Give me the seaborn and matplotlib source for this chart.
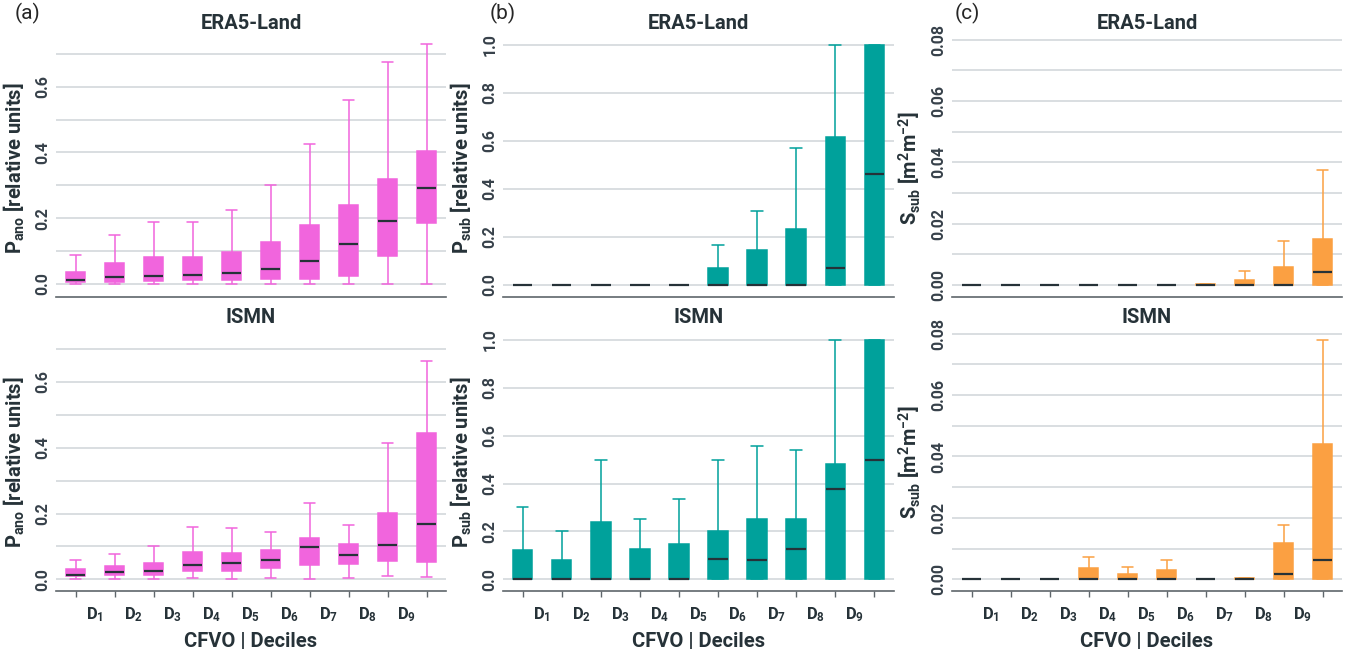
import pandas as pd
import matplotlib
matplotlib.use("Agg")
import matplotlib.pyplot as plt
from matplotlib.ticker import MultipleLocator, FormatStrFormatter, FixedLocator
import seaborn as sns

# CFVO decile bins (box positions) and the D labels sitting between them
bins = list(range(10))
decile_labels = [r"D$_{\mathregular{%d}}$" % i for i in range(1, 10)]

# five-number summary per bin: whisker low, q1, median, q3, whisker high
pano_era5 = [[0.000, 0.005, 0.011, 0.038, 0.089], [0.000, 0.007, 0.022, 0.064, 0.150],
             [0.000, 0.008, 0.025, 0.081, 0.188], [0.000, 0.011, 0.026, 0.082, 0.190],
             [0.000, 0.012, 0.033, 0.097, 0.224], [0.000, 0.014, 0.045, 0.129, 0.301],
             [0.000, 0.016, 0.069, 0.180, 0.426], [0.000, 0.025, 0.122, 0.239, 0.561],
             [0.000, 0.084, 0.192, 0.320, 0.674], [0.000, 0.187, 0.292, 0.403, 0.730]]
pano_ismn = [[0.002, 0.009, 0.013, 0.031, 0.058], [0.001, 0.012, 0.021, 0.041, 0.076],
             [0.001, 0.014, 0.026, 0.051, 0.102], [0.005, 0.026, 0.043, 0.082, 0.159],
             [0.001, 0.025, 0.050, 0.079, 0.155], [0.003, 0.033, 0.058, 0.090, 0.145],
             [0.001, 0.044, 0.098, 0.127, 0.233], [0.005, 0.046, 0.074, 0.106, 0.166],
             [0.009, 0.055, 0.104, 0.201, 0.415], [0.007, 0.052, 0.168, 0.446, 0.665]]
psub_era5 = [[0, 0, 0, 0, 0], [0, 0, 0, 0, 0], [0, 0, 0, 0, 0], [0, 0, 0, 0, 0],
             [0, 0, 0, 0, 0], [0, 0, 0, 0.071, 0.166], [0, 0, 0, 0.143, 0.307],
             [0, 0, 0, 0.231, 0.572], [0, 0, 0.071, 0.615, 1.0], [0, 0, 0.460, 1.0, 1.0]]
psub_ismn = [[0, 0, 0, 0.123, 0.301], [0, 0, 0, 0.081, 0.202], [0, 0, 0, 0.238, 0.500],
             [0, 0, 0, 0.127, 0.251], [0, 0, 0, 0.149, 0.334], [0, 0, 0.085, 0.201, 0.500],
             [0, 0, 0.081, 0.251, 0.557], [0, 0, 0.127, 0.251, 0.539],
             [0, 0, 0.376, 0.482, 1.0], [0, 0, 0.500, 1.0, 1.0]]
ssub_era5 = [[0, 0, 0, 0, 0], [0, 0, 0, 0, 0], [0, 0, 0, 0, 0], [0, 0, 0, 0, 0],
             [0, 0, 0, 0, 0], [0, 0, 0, 0, 0], [0, 0, 0, 0.0002, 0.0002],
             [0, 0, 0, 0.0018, 0.0046], [0, 0, 0, 0.0058, 0.0144],
             [0, 0, 0.0041, 0.0151, 0.0376]]
ssub_ismn = [[0, 0, 0, 0, 0], [0, 0, 0, 0, 0], [0, 0, 0, 0, 0],
             [0, 0, 0, 0.0036, 0.0073], [0, 0, 0, 0.0017, 0.0041], [0, 0, 0, 0.0030, 0.0062],
             [0, 0, 0, 0.0001, 0.0001], [0, 0, 0, 0.0003, 0.0005],
             [0, 0, 0.0017, 0.0117, 0.0177], [0, 0, 0.0063, 0.0439, 0.0779]]

pink = "#f165dd"
teal = "#00a19b"
orange = "#fba042"
dark = "#263238"

sns.set_style("white")
plt.rcParams["font.family"] = ["Roboto", "DejaVu Sans"]
plt.rcParams["mathtext.fontset"] = "custom"
plt.rcParams["mathtext.rm"] = "Roboto"
plt.rcParams["mathtext.bf"] = "Roboto:bold"
plt.rcParams["mathtext.it"] = "Roboto:italic"


def to_long(stats):
    rows = [(b, v) for b, s in zip(bins, stats) for v in s]
    return pd.DataFrame(rows, columns=["bin", "value"])


fig = plt.figure(figsize=(13.53, 6.54), dpi=100)

lefts = [56, 503, 952]
widths = [390, 391, 390]
tops = [39, 333]
H = 258
W, Hf = 1353, 654

ylab_a = r"P$_{\mathregular{ano}}$ [relative units]"
ylab_b = r"P$_{\mathregular{sub}}$ [relative units]"
ylab_c = r"S$_{\mathregular{sub}}$ [m$^{\mathregular{2}}$m$^{\mathregular{-2}}$]"

panels = [
    (0, 0, pano_era5, pink, "ERA5-Land", ylab_a, (-0.0395, 0.745), 0.2, 0.1, "%.1f"),
    (1, 0, pano_ismn, pink, "ISMN", ylab_a, (-0.0356, 0.749), 0.2, 0.1, "%.1f"),
    (0, 1, psub_era5, teal, "ERA5-Land", ylab_b, (-0.051, 1.025), 0.2, None, "%.1f"),
    (1, 1, psub_ismn, teal, "ISMN", ylab_b, (-0.049, 1.029), 0.2, None, "%.1f"),
    (0, 2, ssub_era5, orange, "ERA5-Land", ylab_c, (-0.0039, 0.0802), 0.02, 0.01, "%.2f"),
    (1, 2, ssub_ismn, orange, "ISMN", ylab_c, (-0.0038, 0.0802), 0.02, 0.01, "%.2f"),
]

for row, col, stats, c, title, ylab, ylim, major, minor, fmt in panels:
    ax = fig.add_axes([lefts[col] / W, 1 - (tops[row] + H) / Hf, widths[col] / W, H / Hf])
    df = to_long(stats)
    sns.boxplot(data=df, x="bin", y="value", ax=ax, color=c, saturation=1,
                width=0.5, whis=(0, 100), showfliers=False, linecolor=c,
                linewidth=1.1, capwidths=0.3,
                medianprops=dict(color=dark, linewidth=1.6))
    ax.set_xlim(-0.5, 9.5)
    ax.set_ylim(*ylim)
    ax.yaxis.set_major_locator(MultipleLocator(major))
    if minor:
        ax.yaxis.set_minor_locator(MultipleLocator(minor))
    ax.yaxis.set_major_formatter(FormatStrFormatter(fmt))
    ax.grid(axis="y", which="both", color="#cfd5d9", linewidth=1.1)
    ax.set_axisbelow(True)
    for s in ["left", "right", "top"]:
        ax.spines[s].set_visible(False)
    ax.spines["bottom"].set_color("#5f666b")
    ax.spines["bottom"].set_linewidth(1.2)
    ax.tick_params(axis="y", which="both", length=0, pad=4, labelsize=11.5,
                   labelcolor="#37414a")
    for t in ax.get_yticklabels():
        t.set_rotation(90)
        t.set_va("center")
        t.set_fontweight("bold")
    ax.set_title(title, fontsize=14.5, fontweight="bold", color=dark, pad=7)
    ax.set_ylabel(ylab, fontsize=14.5, fontweight="bold", color=dark)
    ax.yaxis.set_label_coords(-0.075, 0.5)
    ax.set_xticks(bins)
    ax.set_xticklabels([""] * len(bins))
    if row == 1:
        ax.xaxis.set_minor_locator(FixedLocator([b + 0.5 for b in bins[:-1]]))
        ax.set_xticklabels(decile_labels, minor=True, fontsize=12,
                           fontweight="bold", color=dark)
        ax.tick_params(axis="x", which="major", length=4, width=1, color="#5f666b",
                       bottom=True)
        ax.tick_params(axis="x", which="minor", length=0, pad=10)
        ax.set_xlabel("CFVO | Deciles", fontsize=14.5, fontweight="bold", color=dark,
                      labelpad=6)
    else:
        ax.tick_params(axis="x", which="both", length=0)
        ax.set_xlabel("")

fig.text(15 / W, 1 - 3 / Hf, "(a)", fontsize=15, va="top", ha="left")
fig.text(490 / W, 1 - 3 / Hf, "(b)", fontsize=15, va="top", ha="left")
fig.text(955 / W, 1 - 3 / Hf, "(c)", fontsize=15, va="top", ha="left")

fig.savefig("out.png", dpi=100)
